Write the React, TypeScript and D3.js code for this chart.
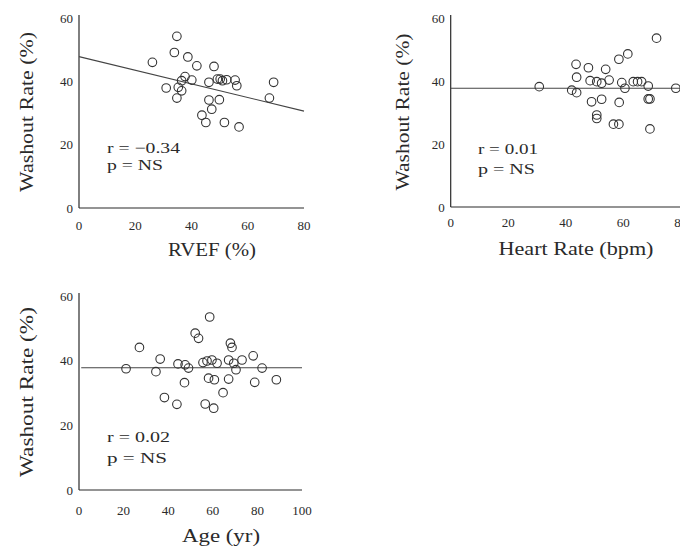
import React from "react";
import * as d3 from "d3";

// Panel 1: RVEF vs Washout
const rvefX = [34.8, 33.9, 26.1, 38.7, 41.9, 48.0, 31.0, 37.7, 36.5, 40.1, 35.3, 36.5, 34.8, 46.2, 49.2, 52.5, 55.5, 56.1, 51.0, 46.2, 49.9, 47.2, 43.7, 45.1, 51.7, 56.9, 69.2, 67.7, 50.2];
const rvefY = [54.2, 49.1, 46.0, 47.7, 44.9, 44.7, 37.9, 41.5, 40.2, 40.4, 38.1, 37.0, 34.7, 39.7, 40.7, 40.5, 40.4, 38.6, 40.2, 34.1, 34.2, 31.2, 29.3, 27.0, 27.0, 25.6, 39.7, 34.7, 40.7];
// Panel 2: Heart rate vs Washout
const hrX = [71.6, 61.6, 58.5, 43.6, 47.9, 53.9, 43.8, 30.8, 48.5, 50.8, 55.1, 52.5, 42.1, 43.8, 59.5, 60.6, 63.5, 66.4, 68.7, 78.3, 49.0, 52.5, 58.6, 68.7, 50.8, 50.8, 56.6, 58.5, 69.3, 65.0, 69.3];
const hrY = [53.6, 48.6, 46.9, 45.3, 44.2, 43.7, 41.2, 38.2, 40.1, 39.8, 40.3, 39.3, 37.1, 36.3, 39.5, 37.7, 39.8, 39.8, 38.4, 37.7, 33.4, 34.2, 33.2, 34.3, 29.2, 28.1, 26.3, 26.3, 24.8, 39.8, 34.3];
// Panel 3: Age vs Washout
const ageX = [58.6, 52.1, 53.6, 27.1, 67.9, 68.6, 36.4, 21.1, 34.5, 44.4, 47.6, 49.1, 57.4, 59.6, 61.9, 67.1, 69.4, 73.1, 78.1, 70.4, 82.1, 47.3, 58.1, 60.7, 67.1, 78.8, 88.5, 38.3, 43.9, 56.6, 60.4, 64.6, 55.6];
const ageY = [53.5, 48.5, 46.9, 44.1, 45.4, 44.1, 40.5, 37.5, 36.6, 39.0, 38.7, 37.7, 39.9, 40.2, 39.2, 40.2, 39.2, 40.2, 41.5, 37.2, 37.7, 33.2, 34.6, 34.1, 34.3, 33.3, 34.1, 28.6, 26.5, 26.6, 25.3, 30.1, 39.4];

const xTicks1 = [0, 20, 40, 60, 80];
const xTicks3 = [0, 20, 40, 60, 80, 100];
const yTicks = [0, 20, 40, 60];

const yTitle = "Washout Rate (%)";
const xTitles = ["RVEF (%)", "Heart Rate (bpm)", "Age (yr)"];
const rLabels = ["r = \u22120.34", "r = 0.01", "r = 0.02"];
const pLabels = ["p = NS", "p = NS", "p = NS"];
// regression: intercept, slope
const fitIntercept = [47.8, 37.7, 37.8];
const fitSlope = [-0.215, 0, 0];

const FONT = "'Liberation Serif', 'Times New Roman', serif";
const INK = "#2a2a2a";

type PanelProps = {
  xs: number[];
  ys: number[];
  xMax: number;
  xTicks: number[];
  xRange: [number, number];
  yRange: [number, number];
  xTitle: string;
  xTitlePos: [number, number, number];
  yTitlePos: [number, number, number];
  rLabel: string;
  pLabel: string;
  annPos: [number, number, number, number];
  annW: [number, number];
  fitI: number;
  fitS: number;
  fitX: [number, number];
  xTickY: number;
};

function Panel(p: PanelProps) {
  const x = d3.scaleLinear().domain([0, p.xMax]).range(p.xRange);
  const y = d3.scaleLinear().domain([0, 60]).range(p.yRange);
  const line = d3
    .line<number>()
    .x((d) => x(d))
    .y((d) => y(p.fitI + p.fitS * d));
  return (
    <g>
      <line x1={x(0)} x2={x(p.xMax)} y1={y(0)} y2={y(0)} stroke={INK} strokeWidth={1.2} />
      <line x1={x(0)} x2={x(0)} y1={y(0)} y2={y(60) - 3} stroke={INK} strokeWidth={1.2} />
      {yTicks.map((t) => (
        <text key={"y" + t} x={x(0) - 6} y={y(t)} textAnchor="end" dominantBaseline="central" fontSize={13} fill={INK} fontFamily={FONT}>
          {t}
        </text>
      ))}
      {p.xTicks.map((t) => (
        <text key={"x" + t} x={x(t)} y={p.xTickY} textAnchor="middle" dominantBaseline="central" fontSize={13} fill={INK} fontFamily={FONT}>
          {t}
        </text>
      ))}
      <path d={line(p.fitX) || ""} stroke="#444" strokeWidth={1.1} fill="none" />
      {p.xs.map((v, i) => (
        <circle key={i} cx={x(v)} cy={y(p.ys[i])} r={4.3} fill="none" stroke="#333" strokeWidth={1.1} />
      ))}
      <text x={p.annPos[0]} y={p.annPos[1]} dominantBaseline="central" fontSize={15} fill={INK} fontFamily={FONT} textLength={p.annW[0]} lengthAdjust="spacingAndGlyphs">
        {p.rLabel}
      </text>
      <text x={p.annPos[2]} y={p.annPos[3]} dominantBaseline="central" fontSize={15} fill={INK} fontFamily={FONT} textLength={p.annW[1]} lengthAdjust="spacingAndGlyphs">
        {p.pLabel}
      </text>
      <text x={p.xTitlePos[0]} y={p.xTitlePos[1]} textAnchor="middle" dominantBaseline="central" fontSize={18} fill={INK} fontFamily={FONT} textLength={p.xTitlePos[2]} lengthAdjust="spacingAndGlyphs">
        {p.xTitle}
      </text>
      <text
        transform={`translate(${p.yTitlePos[0]},${p.yTitlePos[1]}) rotate(-90)`}
        textAnchor="middle"
        dominantBaseline="central"
        fontSize={19}
        fill={INK}
        fontFamily={FONT}
        textLength={p.yTitlePos[2]}
        lengthAdjust="spacingAndGlyphs"
      >
        {yTitle}
      </text>
    </g>
  );
}

export default function App() {
  return (
    <svg width={680} height={550} style={{ position: "absolute", left: 0, top: 0, background: "#fff" }}>
      <rect width={680} height={550} fill="#fff" />
      <Panel
        xs={rvefX}
        ys={rvefY}
        xMax={80}
        xTicks={xTicks1}
        xRange={[79, 304]}
        yRange={[208, 18]}
        xTitle={xTitles[0]}
        xTitlePos={[212, 250, 88]}
        yTitlePos={[26, 112, 160]}
        rLabel={rLabels[0]}
        pLabel={pLabels[0]}
        annPos={[107, 148, 107, 165]}
        annW={[73, 56]}
        fitI={fitIntercept[0]}
        fitS={fitSlope[0]}
        fitX={[0, 80]}
        xTickY={225}
      />
      <Panel
        xs={hrX}
        ys={hrY}
        xMax={80}
        xTicks={xTicks1}
        xRange={[450.7, 680.7]}
        yRange={[207, 18]}
        xTitle={xTitles[1]}
        xTitlePos={[576, 249, 155]}
        yTitlePos={[402, 112, 157]}
        rLabel={rLabels[1]}
        pLabel={pLabels[1]}
        annPos={[478, 148.5, 478, 169]}
        annW={[60, 57]}
        fitI={fitIntercept[1]}
        fitS={fitSlope[1]}
        fitX={[0, 82]}
        xTickY={222}
      />
      <Panel
        xs={ageX}
        ys={ageY}
        xMax={100}
        xTicks={xTicks3}
        xRange={[79, 302]}
        yRange={[490, 296]}
        xTitle={xTitles[2]}
        xTitlePos={[221, 536, 78]}
        yTitlePos={[26, 392, 170]}
        rLabel={rLabels[2]}
        pLabel={pLabels[2]}
        annPos={[107, 437, 107, 458]}
        annW={[63, 60]}
        fitI={fitIntercept[2]}
        fitS={fitSlope[2]}
        fitX={[1, 100]}
        xTickY={510}
      />
    </svg>
  );
}
